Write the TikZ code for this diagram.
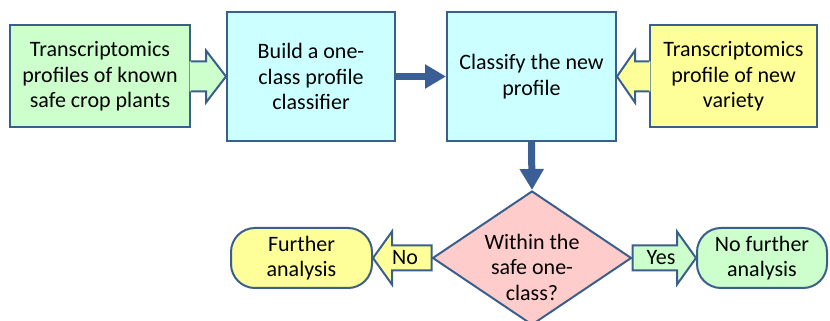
\documentclass[tikz,border=0pt]{standalone}
\usepackage{fontspec}
\setmainfont{Carlito}
\usetikzlibrary{shapes.geometric,arrows.meta,calc}

\definecolor{edge}{HTML}{3A5F8B}
\definecolor{flowblue}{HTML}{3A5F94}
\definecolor{greenfill}{HTML}{CCFFCC}
\definecolor{bluefill}{HTML}{CCFFFF}
\definecolor{yellowfill}{HTML}{FFFF99}
\definecolor{pinkfill}{HTML}{FFCCCC}

% Block arrow whose tail is tucked under a box: filled shape, outline left open at the tail.
% #1 fill, #2 tail point, #3 tip point, #4 signed offset of head base from tip,
% #5 shaft half-width, #6 head half-width
\newcommand\tuckedarrow[6]{%
  \fill[#1] let \p1=#2, \p2=#3 in
    ({\x1+0.075*(#4)},{\y1+#5}) -- ({\x2+(#4)},{\y1+#5}) -- ({\x2+(#4)},{\y1+#6}) -- (\x2,\y2)
    -- ({\x2+(#4)},{\y1-#6}) -- ({\x2+(#4)},{\y1-#5}) -- ({\x1+0.075*(#4)},{\y1-#5}) -- cycle;
  \draw[edgeline] let \p1=#2, \p2=#3 in
    (\x1,{\y1+#5}) -- ({\x2+(#4)},{\y1+#5}) -- ({\x2+(#4)},{\y1+#6}) -- (\x2,\y2)
    -- ({\x2+(#4)},{\y1-#6}) -- ({\x2+(#4)},{\y1-#5}) -- (\x1,{\y1-#5});
}
% Closed block arrow, same arguments.
\newcommand\closedarrow[6]{%
  \filldraw[edgeline, fill=#1] let \p1=#2, \p2=#3 in
    (\x1,{\y1+#5}) -- ({\x2+(#4)},{\y1+#5}) -- ({\x2+(#4)},{\y1+#6}) -- (\x2,\y2)
    -- ({\x2+(#4)},{\y1-#6}) -- ({\x2+(#4)},{\y1-#5}) -- (\x1,{\y1-#5}) -- cycle;
}

\begin{document}
\begin{tikzpicture}[x=1pt,y=1pt,
  txt/.style={font=\fontsize{22}{25.5}\selectfont, align=center, inner sep=0pt},
  box/.style={txt, draw=edge, line width=2pt},
  edgeline/.style={draw=edge, line width=2pt, line join=miter},
  flow/.style={draw=flowblue, line width=7pt, -{Triangle[length=21pt,width=23pt]}}]
\useasboundingbox (0,0) rectangle (830,321);
\clip (0,0) rectangle (830,321);

% top row
\node[box, fill=greenfill, minimum width=180pt, minimum height=102pt] (known) at (100,244.5)
  {Transcriptomics\\profiles of known\\safe crop plants};
\node[box, fill=bluefill, minimum width=168pt, minimum height=129pt] (build) at (311,244.5)
  {Build a one-\\class profile\\classifier};
\node[box, fill=bluefill, minimum width=169pt, minimum height=129pt] (classify) at (531.5,244.5)
  {Classify the new\\profile};
\node[box, fill=yellowfill, minimum width=167pt, minimum height=102pt] (newvar) at (733.5,244.5)
  {Transcriptomics\\profile of new\\variety};

% decision and outcomes
\node[diamond, draw=edge, line width=2pt, fill=pinkfill, inner sep=0pt,
  minimum width=199pt, minimum height=134pt] (check) at (532,63) {};
\node[txt] (checktext) at (532,54) {Within the\\safe one-\\class?};
\node[box, rounded corners=24pt, fill=yellowfill, minimum width=141pt, minimum height=60pt]
  (further) at (301.5,63) {Further\\analysis};
\node[box, rounded corners=24pt, fill=greenfill, minimum width=130pt, minimum height=60pt]
  (nofurther) at (762,63) {No further\\analysis};

% connectors
\tuckedarrow{greenfill}{(known.east)}{(build.west)}{-20pt}{15pt}{26pt}
\tuckedarrow{yellowfill}{(newvar.west)}{(classify.east)}{18pt}{15pt}{26pt}
\draw[flow] (build.east) -- (classify.west);
\draw[flow] (classify.south) -- (check.north);
\closedarrow{yellowfill}{(check.west)}{(further.east)}{19pt}{12.5pt}{26.5pt}
\closedarrow{greenfill}{(check.east)}{(nofurther.west)}{-19pt}{12.5pt}{26.5pt}
\node[txt] (nolabel) at (405,63) {No};
\node[txt] (yeslabel) at (661,63) {Yes};
\end{tikzpicture}
\end{document}
